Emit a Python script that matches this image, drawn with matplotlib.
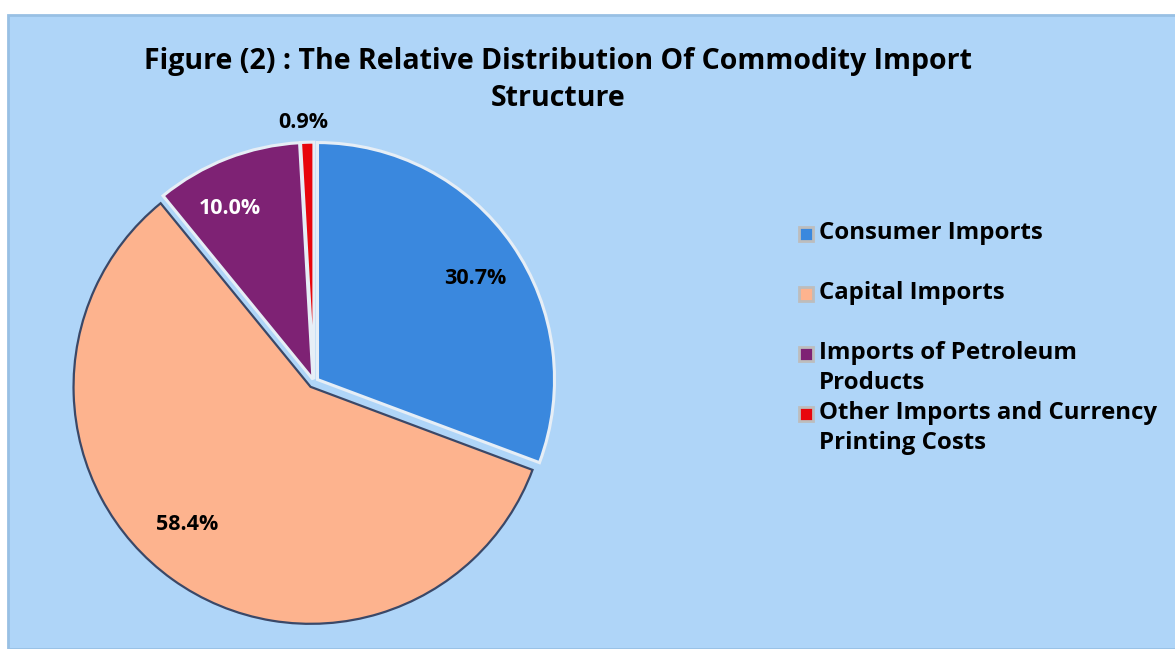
import matplotlib
matplotlib.use("Agg")
import matplotlib.pyplot as plt
from matplotlib.patches import Rectangle

categories = ["Consumer Imports", "Capital Imports", "Imports of Petroleum\nProducts",
              "Other Imports and Currency\nPrinting Costs"]
values = [30.7, 58.4, 10.0, 0.9]
labels = ["30.7%", "58.4%", "10.0%", "0.9%"]
colors = ["#3A88DE", "#FDB38E", "#7E2274", "#E8060C"]
title = "Figure (2) : The Relative Distribution Of Commodity Import\nStructure"

W, H = 1175, 649
fig = plt.figure(figsize=(W / 100, H / 100), dpi=100)
fig.patch.set_facecolor("white")

# panel background
bg = fig.add_axes([0, 0, 1, 1], zorder=-5)
bg.set_xlim(0, W)
bg.set_ylim(H, 0)
bg.axis("off")
bg.add_patch(Rectangle((8, 15), W, H - 15, facecolor="#AFD5F8", edgecolor="#98C0E4", lw=2))

FONT = "Open Sans"

# pie axes
cx, cy, R = 314, 382, 237
ax = fig.add_axes([(cx - R) / W, (H - cy - R) / H, 2 * R / W, 2 * R / H])

explode = [0.018, 0.025, 0.012, 0.012]
wedges, _ = ax.pie(values, colors=colors, startangle=90, counterclock=False,
                   explode=explode, radius=1.0,
                   wedgeprops=dict(edgecolor="#E6EEF6", linewidth=2.2))
wedges[1].set_edgecolor("#3A4868")
wedges[1].set_linewidth(1.6)
for w in wedges:
    w.set_clip_on(False)
ax.set_xlim(-1, 1)
ax.set_ylim(-1, 1)
ax.set_aspect("equal")
ax.axis("off")

# data labels
label_pos = [(475, 278), (187, 525), (230, 208), (303, 122)]
label_col = ["black", "black", "white", "black"]
for (px, py), t, c in zip(label_pos, labels, label_col):
    fig.text(px / W, (H - py) / H, t, ha="center", va="center", fontsize=15.5,
             fontweight="bold", color=c, family=FONT)

# title
fig.text(558 / W, (H - 80) / H, title, ha="center", va="center", fontsize=20.5,
         fontweight="bold", family=FONT, linespacing=1.38)

# legend (manual)
leg_y = [234, 294, 354, 414]
for y, cat, col in zip(leg_y, categories, colors):
    bg.add_patch(Rectangle((799, y - 7), 14, 14, facecolor=col,
                           edgecolor="#BDBDBD", lw=2, zorder=3))
    fig.text(819 / W, (H - y + 13) / H, cat, ha="left", va="top", fontsize=17.3,
             fontweight="bold", family=FONT, linespacing=1.35)

fig.savefig("out.png", dpi=100)
